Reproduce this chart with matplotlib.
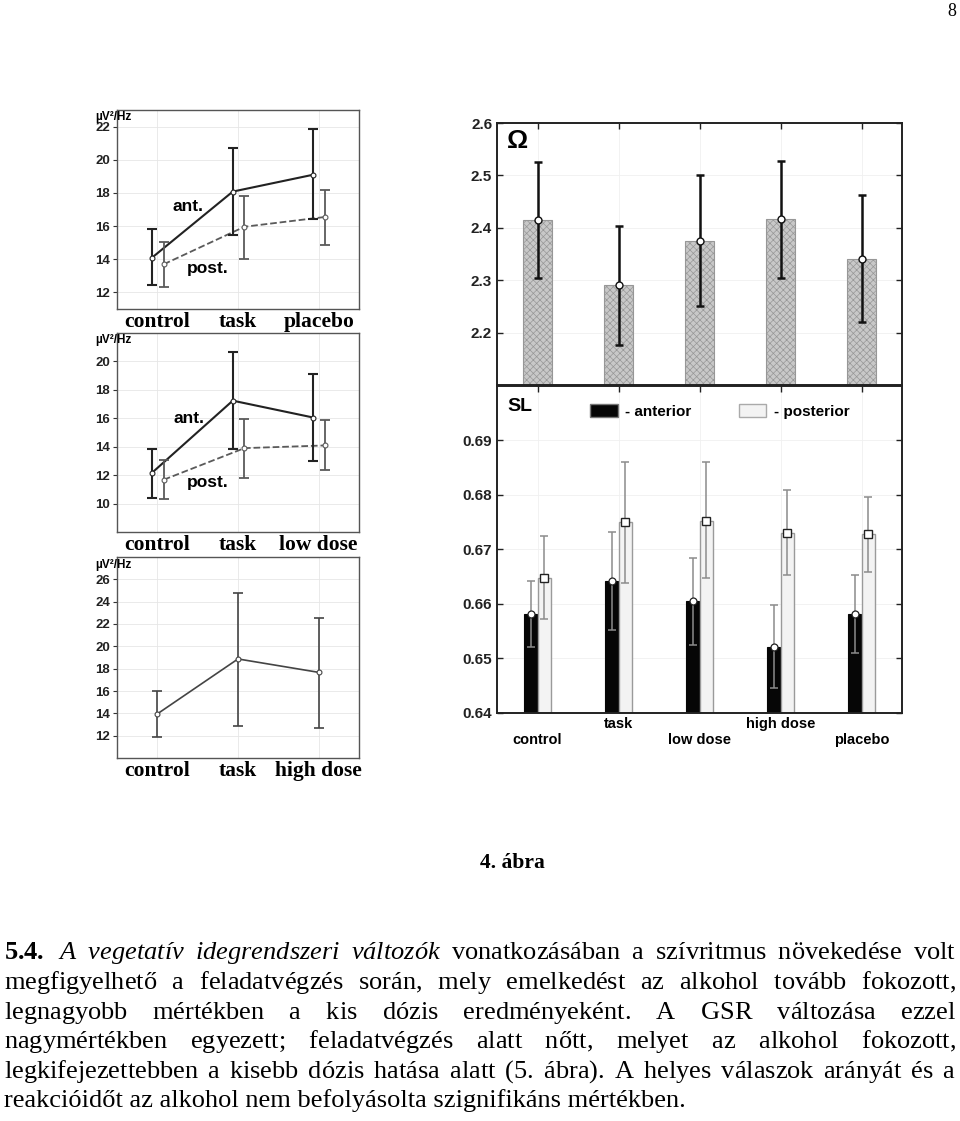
import numpy as np
import matplotlib
matplotlib.use("Agg")
import matplotlib.pyplot as plt
from matplotlib.patches import Patch

W, H = 960, 1121

# --- left column: spectral power, µV²/Hz ---
cond_placebo = ["control", "task", "placebo"]
ant_placebo = [14.1, 18.08, 19.1]
ant_placebo_lo = [12.45, 15.46, 16.45]
ant_placebo_hi = [15.84, 20.73, 21.85]
post_placebo = [13.7, 15.96, 16.55]
post_placebo_lo = [12.3, 14.0, 14.87]
post_placebo_hi = [15.03, 17.8, 18.2]

cond_low = ["control", "task", "low dose"]
ant_low = [12.17, 17.24, 16.05]
ant_low_lo = [10.42, 13.81, 13.01]
ant_low_hi = [13.86, 20.63, 19.14]
post_low = [11.68, 13.9, 14.09]
post_low_lo = [10.3, 11.8, 12.36]
post_low_hi = [13.04, 15.98, 15.89]

cond_high = ["control", "task", "high dose"]
high_mean = [13.95, 18.87, 17.67]
high_lo = [11.91, 12.9, 12.72]
high_hi = [15.99, 24.77, 22.52]

# --- right column: Omega and SL ---
groups = ["control", "task", "low dose", "high dose", "placebo"]
omega = [2.414, 2.291, 2.375, 2.417, 2.341]
omega_lo = [2.305, 2.176, 2.250, 2.305, 2.220]
omega_hi = [2.525, 2.404, 2.501, 2.528, 2.463]
sl_ant = [0.6581, 0.6642, 0.6606, 0.6522, 0.6581]
sl_ant_lo = [0.6521, 0.6552, 0.6524, 0.6445, 0.6510]
sl_ant_hi = [0.6642, 0.6732, 0.6685, 0.6598, 0.6653]
sl_post = [0.6647, 0.6750, 0.6753, 0.6731, 0.6728]
sl_post_lo = [0.6572, 0.6638, 0.6647, 0.6653, 0.6659]
sl_post_hi = [0.6725, 0.6860, 0.6860, 0.6810, 0.6797]

# --- page text ---
page_no = "8"
fig_caption = "4. ábra"
para_lines = [
    [("5.4.", "bold"), ("A vegetatív idegrendszeri változók", "italic"),
     ("vonatkozásában a szívritmus növekedése volt", "normal")],
    [("megfigyelhető a feladatvégzés során, mely emelkedést az alkohol tovább fokozott,", "normal")],
    [("legnagyobb mértékben a kis dózis eredményeként. A GSR változása ezzel", "normal")],
    [("nagymértékben egyezett; feladatvégzés alatt nőtt, melyet az alkohol fokozott,", "normal")],
    [("legkifejezettebben a kisebb dózis hatása alatt (5. ábra). A helyes válaszok arányát és a", "normal")],
    [("reakcióidőt az alkohol nem befolyásolta szignifikáns mértékben.", "normal")],
]

SANS = "Liberation Sans"
SERIF = "Liberation Serif"
plt.rcParams["hatch.linewidth"] = 0.5
plt.rcParams["mathtext.fontset"] = "custom"
plt.rcParams["mathtext.rm"] = "Liberation Serif"
plt.rcParams["mathtext.it"] = "Liberation Serif:italic"
plt.rcParams["mathtext.bf"] = "Liberation Serif:bold"


def rect(l, t, r, b):
    return [l / W, 1 - b / H, (r - l) / W, (b - t) / H]


fig = plt.figure(figsize=(W / 100, H / 100), dpi=100)
fig.patch.set_facecolor("white")


def power_panel(box, cats, ylim, yticks, series, unit_y):
    ax = fig.add_axes(rect(*box))
    x = np.arange(len(cats))
    for mean, lo, hi, dx, color, ls, lw in series:
        mean = np.array(mean)
        xs = x + dx
        ax.plot(xs, mean, color=color, ls=ls, lw=lw, zorder=2)
        yerr = [mean - np.array(lo), np.array(hi) - mean]
        ax.errorbar(xs, mean, yerr=yerr, fmt="none", ecolor=color,
                    elinewidth=lw, capsize=3.5, capthick=lw, zorder=3)
        ax.plot(xs, mean, "o", ms=3.5, mfc="white", mec=color, mew=0.8, zorder=4)
    ax.set_xlim(-0.5, len(cats) - 0.5)
    ax.set_ylim(*ylim)
    ax.set_yticks(yticks)
    ax.set_yticklabels([str(v) for v in yticks], fontfamily=SANS,
                       fontweight="bold", fontsize=9.5, color="#222")
    ax.set_xticks(x)
    ax.set_xticklabels(cats, fontfamily=SERIF, fontweight="bold", fontsize=15.5)
    ax.tick_params(axis="x", length=0, pad=2)
    ax.tick_params(axis="y", direction="out", length=3, pad=2, color="#333")
    ax.grid(True, color="#e6e6e6", lw=0.6)
    ax.set_axisbelow(True)
    for s in ax.spines.values():
        s.set_color("#555")
        s.set_linewidth(1.0)
    ax.text(-0.09, unit_y, "µV²/Hz", transform=ax.transAxes, ha="left",
            va="center", fontfamily=SANS, fontweight="bold", fontsize=8.5)
    return ax


ax1 = power_panel((117, 110, 359, 309), cond_placebo, (11, 23), range(12, 23, 2), [
    (ant_placebo, ant_placebo_lo, ant_placebo_hi, -0.065, "#222", "-", 1.5),
    (post_placebo, post_placebo_lo, post_placebo_hi, 0.08, "#5a5a5a", "--", 1.3),
], 1 - 7 / 199)
ax1.text(0.194, 17.2, "ant.", fontfamily=SANS, fontweight="bold", fontsize=12.5, va="center")
ax1.text(0.367, 13.47, "post.", fontfamily=SANS, fontweight="bold", fontsize=12.5, va="center")

ax2 = power_panel((117, 333, 359, 532), cond_low, (8, 22), range(10, 21, 2), [
    (ant_low, ant_low_lo, ant_low_hi, -0.065, "#222", "-", 1.5),
    (post_low, post_low_lo, post_low_hi, 0.08, "#5a5a5a", "--", 1.3),
], 1 - 7 / 199)
ax2.text(0.206, 15.95, "ant.", fontfamily=SANS, fontweight="bold", fontsize=12.5, va="center")
ax2.text(0.367, 11.51, "post.", fontfamily=SANS, fontweight="bold", fontsize=12.5, va="center")

ax3 = power_panel((117, 557, 359, 758), cond_high, (10, 28), range(12, 27, 2), [
    (high_mean, high_lo, high_hi, 0.0, "#444", "-", 1.2),
], 1 - 8 / 201)


def style_right(ax):
    ax.tick_params(direction="in", top=True, right=True, length=4, width=1,
                   color="#222")
    for s in ax.spines.values():
        s.set_color("#222")
        s.set_linewidth(1.4)
    ax.grid(True, color="#f0f0f0", lw=0.6)
    ax.set_axisbelow(True)


# Omega panel
xg = np.arange(len(groups))
axo = fig.add_axes(rect(497, 123, 902, 385))
om = np.array(omega)
axo.bar(xg, om - 2.1, bottom=2.1, width=0.36, color="#c8c8c8",
        edgecolor="#979797", hatch="xxxxx", lw=0.8, zorder=2)
axo.errorbar(xg, om, yerr=[om - np.array(omega_lo), np.array(omega_hi) - om],
             fmt="none", ecolor="#111", elinewidth=1.8, capsize=3, capthick=1.8, zorder=3)
axo.plot(xg, om, "o", ms=5, mfc="white", mec="#111", mew=1, zorder=4)
axo.set_xlim(-0.5, len(groups) - 0.5)
axo.set_ylim(2.1, 2.6)
axo.set_yticks([2.2, 2.3, 2.4, 2.5, 2.6])
axo.set_yticklabels(["2.2", "2.3", "2.4", "2.5", "2.6"], fontfamily=SANS,
                    fontweight="bold", fontsize=11, color="#222")
axo.set_xticks(xg)
axo.set_xticklabels([])
style_right(axo)
axo.text(0.025, 0.93, "Ω", transform=axo.transAxes, fontfamily=SANS,
         fontweight="bold", fontsize=19, va="center", ha="left")

# SL panel
axs = fig.add_axes(rect(497, 386, 902, 713))
dx, bw = 0.083, 0.155
a = np.array(sl_ant)
p = np.array(sl_post)
axs.bar(xg - dx, a - 0.64, bottom=0.64, width=bw, color="#060606",
        edgecolor="#060606", lw=0.8, zorder=2)
axs.bar(xg + dx, p - 0.64, bottom=0.64, width=bw, color="#f3f3f3",
        edgecolor="#9a9a9a", lw=1.0, zorder=2)
axs.errorbar(xg - dx, a, yerr=[a - np.array(sl_ant_lo), np.array(sl_ant_hi) - a],
             fmt="none", ecolor="#8c8c8c", elinewidth=1.1, capsize=3, capthick=1.1, zorder=3)
axs.errorbar(xg + dx, p, yerr=[p - np.array(sl_post_lo), np.array(sl_post_hi) - p],
             fmt="none", ecolor="#8c8c8c", elinewidth=1.1, capsize=3, capthick=1.1, zorder=3)
axs.plot(xg - dx, a, "o", ms=5, mfc="white", mec="#222", mew=0.9, zorder=4)
axs.plot(xg + dx, p, "s", ms=6, mfc="white", mec="#222", mew=1.0, zorder=4)
axs.set_xlim(-0.5, len(groups) - 0.5)
axs.set_ylim(0.64, 0.70)
sl_ticks = [0.64, 0.65, 0.66, 0.67, 0.68, 0.69]
axs.set_yticks(sl_ticks)
axs.set_yticklabels([f"{v:.2f}" for v in sl_ticks], fontfamily=SANS,
                    fontweight="bold", fontsize=11, color="#222")
axs.set_xticks(xg)
axs.set_xticklabels([("\n" + g) if i % 2 == 0 else g for i, g in enumerate(groups)],
                    fontfamily=SANS, fontweight="bold", fontsize=10.5)
style_right(axs)
axs.tick_params(axis="x", pad=3)
axs.text(0.025, 0.936, "SL", transform=axs.transAxes, fontfamily=SANS,
         fontweight="bold", fontsize=14, va="center", ha="left")
handles = [Patch(facecolor="#060606", edgecolor="#777", lw=1.0),
           Patch(facecolor="#f3f3f3", edgecolor="#aaa", lw=1.0)]
axs.legend(handles, ["- anterior", "- posterior"], ncol=2, loc="center left",
           bbox_to_anchor=(0.23, 0.9225), frameon=False, borderpad=0,
           borderaxespad=0, handlelength=1.8, handleheight=1.0,
           handletextpad=0.5, columnspacing=3.1,
           prop={"family": SANS, "weight": "bold", "size": 11})

# --- page text ---
fig.text(952 / W, 1 - 12 / H, page_no, fontfamily=SERIF, fontsize=13,
         ha="center", va="center")
fig.text(480 / W, 1 - 868 / H, fig_caption, fontfamily=SERIF, fontweight="bold",
         fontsize=15.5, ha="left", va="baseline")

# justified paragraph: one text object per line, word gaps set with \hspace
renderer = fig.canvas.get_renderer()
x0, x1 = 4, 956
baselines = [959, 989, 1019, 1048, 1078, 1107]
fs = 19


def build_line(words, g):
    parts = []
    for w, st in words:
        if st == "bold":
            parts.append(r"$\mathbf{" + w + "}$")
        elif st == "italic":
            parts.append(r"$\mathit{" + w + "}$")
        else:
            parts.append(w)
    return (r"$\hspace{%.4f}$" % g).join(parts)


for i, line in enumerate(para_lines):
    words = [(w, st) for seg, st in line for w in seg.split()]
    if i == len(para_lines) - 1:
        fig.text(x0 / W, 1 - baselines[i] / H, " ".join(w for w, _ in words),
                 fontfamily=SERIF, fontsize=fs, ha="left", va="baseline")
        continue
    t = fig.text(x0 / W, 1 - baselines[i] / H, build_line(words, 0.0),
                 fontfamily=SERIF, fontsize=fs, ha="left", va="baseline")
    w0 = t.get_window_extent(renderer).width
    t.set_text(build_line(words, 1.0))
    w1 = t.get_window_extent(renderer).width
    unit = (w1 - w0) / (len(words) - 1)
    g = max(0.0, (x1 - x0 - w0) / (len(words) - 1) / unit)
    t.set_text(build_line(words, g))

fig.savefig("out.png", dpi=100)
